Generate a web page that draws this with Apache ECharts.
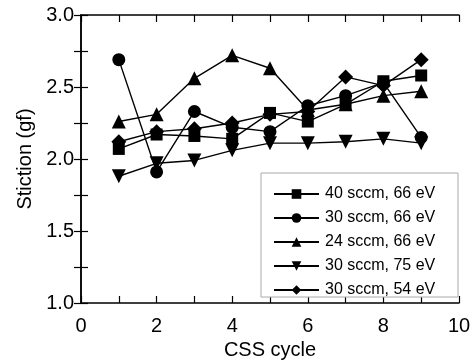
<!DOCTYPE html>
<html>
<head>
<meta charset="utf-8">
<script src="https://cdn.jsdelivr.net/npm/echarts@6/dist/echarts.min.js"></script>
<style>
  html, body { margin: 0; padding: 0; background: #fff; }
  #chart { width: 476px; height: 361px; }
</style>
</head>
<body>
<div id="chart"></div>
<script>
// CSS cycle number
var cycles = [1, 2, 3, 4, 5, 6, 7, 8, 9];

// stiction (gf) per condition
var s40_66 = [2.07, 2.17, 2.16, 2.14, 2.32, 2.26, 2.38, 2.54, 2.58];
var s30_66 = [2.69, 1.91, 2.33, 2.22, 2.19, 2.37, 2.44, 2.53, 2.15];
var s24_66 = [2.26, 2.31, 2.56, 2.72, 2.63, 2.34, 2.38, 2.44, 2.47];
var s30_75 = [1.88, 1.97, 1.99, 2.06, 2.11, 2.11, 2.12, 2.14, 2.11];
var s30_54 = [2.12, 2.19, 2.21, 2.25, 2.31, 2.33, 2.57, 2.51, 2.69];

var names = ['40 sccm, 66 eV', '30 sccm, 66 eV', '24 sccm, 66 eV', '30 sccm, 75 eV', '30 sccm, 54 eV'];

var font = 'Liberation Sans, Arial, Helvetica, sans-serif';

function pairs(vals) {
  var out = [];
  for (var i = 0; i < cycles.length; i++) {
    out.push([cycles[i], vals[i]]);
  }
  return out;
}

function makeSeries(name, vals, symbol, size, rotate) {
  return {
    name: name,
    type: 'line',
    data: pairs(vals),
    symbol: symbol,
    symbolSize: size,
    symbolRotate: rotate || 0,
    showAllSymbol: true,
    lineStyle: { color: '#000', width: 1.4 },
    itemStyle: { color: '#000' },
    emphasis: { disabled: true },
    animation: false
  };
}

var chart = echarts.init(document.getElementById('chart'));

var option = {
  animation: false,
  grid: { left: 81, right: 17, top: 15, bottom: 58, outerBoundsMode: 'none' },
  graphic: [{
    type: 'rect',
    shape: { x: 261, y: 173, width: 197, height: 124 },
    style: { fill: '#fff', stroke: '#aaa', lineWidth: 1 },
    z: 10
  }],
  legend: {
    orient: 'vertical',
    left: 273,
    top: 186,
    itemWidth: 45,
    itemHeight: 12,
    itemGap: 8,
    padding: 0,
    z: 20,
    textStyle: { fontFamily: font, fontSize: 16, color: '#000', padding: [0, 0, 0, 1] },
    data: names
  },
  xAxis: [{
    type: 'value',
    min: 0, max: 10, interval: 1,
    name: 'CSS cycle',
    nameLocation: 'middle',
    nameGap: 33,
    nameTextStyle: { fontFamily: font, fontSize: 20, color: '#000' },
    axisLine: { lineStyle: { color: '#000', width: 1.5 } },
    axisTick: { inside: true, length: 7, lineStyle: { color: '#000', width: 1.2 } },
    axisLabel: {
      fontFamily: font, fontSize: 20, color: '#000', margin: 13,
      formatter: function (v) { return v % 2 === 0 ? String(v) : ''; }
    },
    splitLine: { show: false }
  }, {
    type: 'value',
    position: 'top',
    min: 0, max: 10, interval: 1,
    axisLine: { lineStyle: { color: '#000', width: 1.5 } },
    axisTick: { inside: true, length: 7, lineStyle: { color: '#000', width: 1.2 } },
    axisLabel: { show: false },
    splitLine: { show: false }
  }],
  yAxis: [{
    type: 'value',
    min: 1, max: 3, interval: 0.25,
    name: 'Stiction (gf)',
    nameLocation: 'middle',
    nameGap: 46,
    nameTextStyle: { fontFamily: font, fontSize: 20, color: '#000' },
    axisLine: { lineStyle: { color: '#000', width: 1.5 } },
    axisTick: { inside: true, length: 7, lineStyle: { color: '#000', width: 1.2 } },
    axisLabel: {
      fontFamily: font, fontSize: 20, color: '#000', margin: 7,
      formatter: function (v) {
        return Math.abs(v * 2 - Math.round(v * 2)) < 1e-6 ? v.toFixed(1) : '';
      }
    },
    splitLine: { show: false }
  }, {
    type: 'value',
    position: 'right',
    min: 1, max: 3, interval: 0.25,
    axisLine: { lineStyle: { color: '#000', width: 1.5 } },
    axisTick: { inside: true, length: 7, lineStyle: { color: '#000', width: 1.2 } },
    axisLabel: { show: false },
    splitLine: { show: false }
  }],
  series: [
    makeSeries(names[0], s40_66, 'rect', 12),
    makeSeries(names[1], s30_66, 'circle', 13),
    makeSeries(names[2], s24_66, 'triangle', 14),
    makeSeries(names[3], s30_75, 'triangle', 14, 180),
    makeSeries(names[4], s30_54, 'diamond', 15)
  ]
};

chart.setOption(option);
</script>
</body>
</html>
